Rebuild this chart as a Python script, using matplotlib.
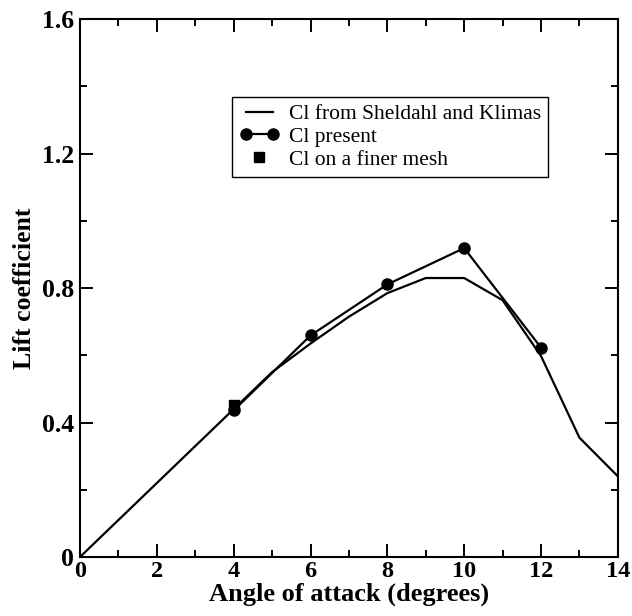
import numpy as np
import matplotlib
matplotlib.use("Agg")
import matplotlib.pyplot as plt
from matplotlib.ticker import MultipleLocator
from matplotlib.legend_handler import HandlerLine2D

plt.rcParams.update({
    'font.family': ['Liberation Serif', 'DejaVu Serif'],
    'xtick.direction': 'in', 'ytick.direction': 'in',
    'xtick.top': True, 'ytick.right': True,
})

# ── Data ──────────────────────────────────────────────────────────────────────
alpha_ref = [0, 1, 2, 3, 4, 5, 6, 7, 8, 9, 10, 11, 12, 13, 14]
cl_ref    = [0.0, 0.11, 0.22, 0.33, 0.44, 0.55, 0.635, 0.715, 0.785, 0.83,
             0.83, 0.764, 0.598, 0.355, 0.24]

alpha_present = [4, 6, 8, 10, 12]
cl_present    = [0.436, 0.659, 0.811, 0.919, 0.623]

alpha_fine = [4]
cl_fine    = [0.453]

fig = plt.figure(figsize=(6.32, 6.16), dpi=100)
ax = fig.add_axes([0.1266, 0.0958, 0.851, 0.873])

l1, = ax.plot(alpha_ref, cl_ref, '-', color='black', lw=1.6,
              label='Cl from Sheldahl and Klimas')
l2, = ax.plot(alpha_present, cl_present, '-o', color='black', lw=1.6, ms=8,
              label='Cl present')
l3, = ax.plot(alpha_fine, cl_fine, 's', color='black', ms=6.5, ls='none',
              label='Cl on a finer mesh')

ax.set_xlim(0, 14)
ax.set_ylim(0, 1.6)
ax.xaxis.set_minor_locator(MultipleLocator(1))
ax.yaxis.set_minor_locator(MultipleLocator(0.2))
ax.set_xticks([0, 2, 4, 6, 8, 10, 12, 14])
ax.set_xticklabels(['0', '2', '4', '6', '8', '10', '12', '14'])
ax.set_yticks([0, 0.4, 0.8, 1.2, 1.6])
ax.set_yticklabels(['0', '0.4', '0.8', '1.2', '1.6'])
ax.tick_params(which='major', length=9.5, width=1.4)
ax.tick_params(which='minor', length=4.7, width=1.4)
ax.tick_params(axis='y', labelsize=18.5, pad=4.5)
ax.tick_params(axis='x', labelsize=17.5, pad=3)
for lab in ax.get_xticklabels() + ax.get_yticklabels():
    lab.set_fontweight('bold')
for s in ax.spines.values():
    s.set_linewidth(1.5)

ax.set_xlabel('Angle of attack (degrees)', fontsize=19, fontweight='bold',
              labelpad=0)
ax.set_ylabel('Lift coefficient', fontsize=18.5, fontweight='bold', labelpad=4)

leg = ax.legend(handles=[l1, l2, l3], loc='upper left',
                bbox_to_anchor=(0.283, 0.855), fontsize=15.5, numpoints=2,
                handlelength=1.85, handletextpad=0.45, labelspacing=0.12,
                borderpad=0.33, borderaxespad=0, fancybox=False, framealpha=1,
                edgecolor='black',
                handler_map={l3: HandlerLine2D(numpoints=1)})
leg.get_frame().set_linewidth(1.0)

fig.savefig('out.png', dpi=100)
